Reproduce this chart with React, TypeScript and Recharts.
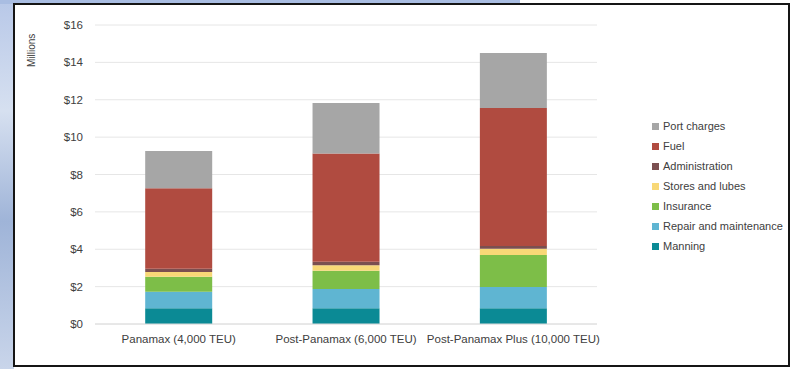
import { BarChart, Bar, XAxis, YAxis, CartesianGrid } from 'recharts';

const CATEGORIES = ['Panamax (4,000 TEU)', 'Post-Panamax (6,000 TEU)', 'Post-Panamax Plus (10,000 TEU)'];

// $ millions, bottom of stack first
const MANNING = [0.84, 0.84, 0.84];
const REPAIR = [0.89, 1.03, 1.14];
const INSURANCE = [0.8, 0.98, 1.71];
const STORES = [0.25, 0.29, 0.34];
const ADMIN = [0.18, 0.19, 0.14];
const FUEL = [4.3, 5.8, 7.39];
const PORT = [2.0, 2.69, 2.94];

const Y_TICKS = [0, 2, 4, 6, 8, 10, 12, 14, 16];

const SERIES = [
  { key: 'manning', name: 'Manning', values: MANNING, color: '#0b8a95' },
  { key: 'repair', name: 'Repair and maintenance', values: REPAIR, color: '#5fb5d2' },
  { key: 'insurance', name: 'Insurance', values: INSURANCE, color: '#7dbe48' },
  { key: 'stores', name: 'Stores and lubes', values: STORES, color: '#f8d877' },
  { key: 'admin', name: 'Administration', values: ADMIN, color: '#7b4f50' },
  { key: 'fuel', name: 'Fuel', values: FUEL, color: '#b04b40' },
  { key: 'port', name: 'Port charges', values: PORT, color: '#a6a6a6' },
];

const data = CATEGORIES.map((name, i) => {
  const row: Record<string, string | number> = { name };
  SERIES.forEach((s) => {
    row[s.key] = s.values[i];
  });
  return row;
});

const FONT = '"Liberation Sans", Arial, sans-serif';

export default function App() {
  return (
    <div style={{ position: 'fixed', left: 0, top: 0, width: 800, height: 369, background: '#fff', fontFamily: FONT }}>
      <div style={{ position: 'absolute', left: 0, top: 0, width: 14, height: 369, background: 'linear-gradient(180deg, #b8c8e8 0%, #d6e0f0 30%, #9fb4d8 60%, #c9d5ea 100%)' }} />
      <div style={{ position: 'absolute', left: 0, top: 0, width: 520, height: 4, background: '#a9bde2' }} />
      <div style={{ position: 'absolute', left: 13, top: 3, width: 773, height: 360, border: '2px solid #151515', background: '#fff' }} />
      <div style={{ position: 'absolute', left: 0, top: 0 }}>
        <BarChart width={800} height={369} data={data} margin={{ top: 25, right: 203, bottom: 15, left: 0 }} barCategoryGap="30%">
          <CartesianGrid vertical={false} stroke="#e6e6e6" />
          <XAxis
            dataKey="name"
            height={30}
            tickLine={false}
            axisLine={{ stroke: '#dcdcdc' }}
            tickMargin={5}
            tick={{ fill: '#404040', fontSize: 11.5, fontFamily: FONT }}
            interval={0}
          />
          <YAxis
            width={95}
            domain={[0, 16]}
            ticks={Y_TICKS}
            tickFormatter={(v: number) => `$${v}`}
            tickLine={false}
            axisLine={false}
            tickMargin={6}
            tick={{ fill: '#404040', fontSize: 11.5, fontFamily: FONT }}
          />
          {SERIES.map((s) => (
            <Bar key={s.key} dataKey={s.key} name={s.name} stackId="a" fill={s.color} isAnimationActive={false} />
          ))}
        </BarChart>
      </div>
      <div style={{ position: 'absolute', left: 26, top: 67, transform: 'rotate(-90deg)', transformOrigin: 'left top', fontSize: 10, color: '#404040' }}>
        Millions
      </div>
      <div style={{ position: 'absolute', left: 652, top: 116, fontSize: 11, color: '#404040' }}>
        {[...SERIES].reverse().map((s) => (
          <div key={s.key} style={{ display: 'flex', alignItems: 'center', height: 20, whiteSpace: 'nowrap' }}>
            <span style={{ display: 'inline-block', width: 7, height: 7, background: s.color, marginRight: 4 }} />
            {s.name}
          </div>
        ))}
      </div>
    </div>
  );
}
